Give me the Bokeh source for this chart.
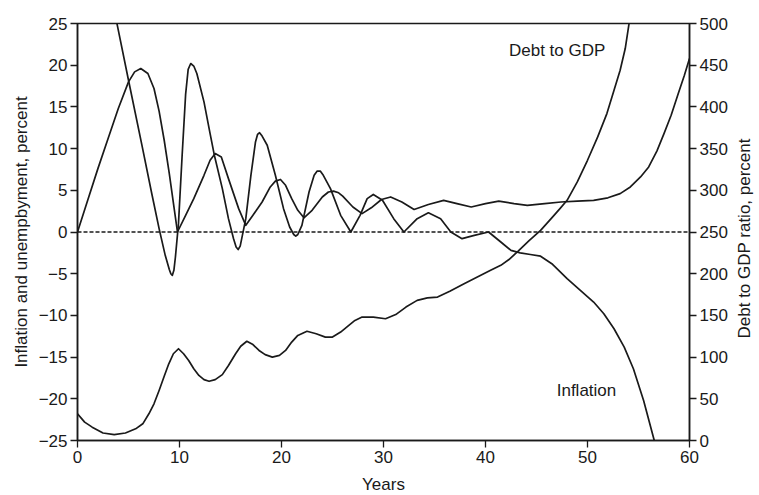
import math
from bokeh.plotting import figure
from bokeh.models import Range1d, LinearAxis, Span, Label, FixedTicker
from bokeh.embed import file_html
from bokeh.resources import INLINE

# ---- data ----
unemp_x = [0, 1, 2, 3, 4, 5, 5.6, 6.2, 6.9, 7.5, 8.0, 8.5, 9.0, 9.4, 9.8,
           10.6, 11.4, 12.4, 13.0, 13.5, 14.1, 14.8, 15.3, 15.8, 16.5,
           17.2, 18.1, 18.9, 19.4, 19.9, 20.4, 21.0, 21.6, 22.2, 23.0, 24.0, 24.6, 25.1,
           25.6, 26.0, 27.0, 27.9, 28.8, 29.8, 30.7, 31.8, 33.0, 34.4, 35.9, 37.2,
           38.6, 40.0, 41.3, 42.8, 44.1, 45.8, 47.4, 49.0, 50.6, 52.0, 53.2,
           54.2, 55.2, 56.0, 56.8, 57.5, 58.2, 58.9, 59.5, 60.0]
unemp_y = [0, 3.8, 7.6, 11.2, 14.8, 18.0, 19.2, 19.6, 19.0, 17.2, 14.5, 11.0, 7.0, 3.5, 0.0,
           2.0, 4.0, 6.8, 8.6, 9.4, 9.0, 6.4, 4.6, 2.8, 0.8,
           2.0, 3.6, 5.4, 6.1, 6.3, 5.6, 4.0, 2.6, 1.7, 2.6, 4.2, 4.8, 4.9,
           4.7, 4.3, 3.0, 2.2, 2.9, 3.9, 4.2, 3.6, 2.7, 3.3, 3.8, 3.4,
           3.0, 3.4, 3.7, 3.4, 3.2, 3.4, 3.6, 3.7, 3.8, 4.1, 4.6,
           5.4, 6.6, 7.8, 9.7, 11.8, 14.0, 16.6, 18.8, 20.8]

infl_x = [3.0, 3.9, 5.0, 6.3, 7.3, 8.0, 8.6, 9.0, 9.15, 9.3, 9.45, 9.6, 9.9, 10.25, 10.6, 10.85,
          11.1, 11.4, 11.7, 12.4, 13.0, 13.4, 14.2, 14.8, 15.3, 15.55, 15.75, 15.95, 16.1, 16.5, 17.0,
          17.45, 17.65, 17.85, 18.1, 18.6, 19.4, 20.2, 20.8, 21.2, 21.4, 21.6, 22.0, 22.7, 23.2, 23.5, 23.8,
          24.1, 24.8, 25.8, 26.8, 27.7, 28.4, 29.0, 29.9, 31.0, 32.0, 33.3, 34.4,
          35.6, 36.6, 37.7, 38.9, 40.3, 41.5, 42.5, 43.4, 44.4, 45.4, 46.5, 48.0,
          49.3, 50.6, 51.6, 52.6, 53.6, 54.5, 55.5, 56.5, 57.0]
infl_y = [30.2, 24.8, 18.2, 10.5, 4.5, 0.4, -2.8, -4.5, -5.0, -5.2, -4.6, -3.0, 1.0, 9.0, 16.5, 19.5,
          20.2, 19.9, 19.0, 15.6, 11.8, 9.3, 5.2, 1.6, -0.8, -1.8, -2.1, -1.7, -0.8, 1.6, 6.8,
          10.8, 11.7, 11.9, 11.5, 10.4, 6.8, 2.8, 0.6, -0.3, -0.5, -0.3, 0.8, 4.8, 6.8, 7.3, 7.3,
          6.8, 5.2, 2.0, 0.0, 2.0, 4.0, 4.5, 3.8, 1.6, 0.0, 1.6, 2.3,
          1.6, 0.0, -0.8, -0.4, 0.0, -1.2, -2.2, -2.5, -2.7, -2.9, -3.8, -5.6,
          -7.0, -8.4, -9.8, -11.6, -13.8, -16.4, -20.2, -24.8, -27.0]

debt_x = [0, 0.7, 1.44, 2.5, 3.6, 4.7, 5.7, 6.4, 7.0, 7.5, 8.0, 8.5, 8.95, 9.4, 9.9,
          10.4, 10.9, 11.4, 11.9, 12.4, 12.9, 13.5, 14.2, 14.8, 15.5, 16.0, 16.6,
          17.2, 17.8, 18.4, 19.1, 19.8, 20.4, 21.0, 21.6, 22.5, 23.4, 24.3, 25.0,
          25.8, 26.6, 27.2, 27.9, 29.0, 30.2, 31.2, 32.2, 33.3, 34.3, 35.3, 36.5,
          37.9, 39.2, 40.5, 41.5, 42.3, 43.2, 44.3, 45.4, 46.5, 47.3, 48.0, 49.0,
          50.0, 51.0, 51.9, 52.6, 53.2, 53.7, 54.05, 54.4]
debt_y = [32, 22, 16, 9, 7, 9, 14, 20, 32, 44, 60, 77, 92, 104, 110,
          104, 96, 86, 78, 73, 71, 73, 79, 90, 104, 113, 119,
          115, 108, 103, 100, 102, 108, 118, 126, 131, 128, 124, 124,
          130, 138, 144, 148, 148, 146, 151, 160, 168, 171, 172, 179,
          188, 196, 204, 210, 217, 227, 240, 252, 267, 278, 288, 310,
          336, 364, 392, 420, 444, 470, 498, 520]

x_ticks = [0, 10, 20, 30, 40, 50, 60]
left_ticks = [-25, -20, -15, -10, -5, 0, 5, 10, 15, 20, 25]
right_ticks = [0, 50, 100, 150, 200, 250, 300, 350, 400, 450, 500]

FONT = "Liberation Sans"
INK = "#1a1a1a"
FS = "17px"

p = figure(frame_width=612, frame_height=417,
           x_range=Range1d(0, 60), y_range=Range1d(-25, 25),
           output_backend="svg", toolbar_location=None,
           min_border_left=77, min_border_right=68, min_border_top=23, min_border_bottom=55)
p.extra_y_ranges = {"debt": Range1d(0, 500)}
p.grid.visible = False
p.background_fill_color = "white"
p.outline_line_color = INK
p.outline_line_width = 1.5

right_axis = LinearAxis(y_range_name="debt")
p.add_layout(right_axis, "right")

p.xaxis.ticker = FixedTicker(ticks=x_ticks)
p.yaxis[0].ticker = FixedTicker(ticks=left_ticks)
right_axis.ticker = FixedTicker(ticks=right_ticks)

p.xaxis.axis_label = "Years"
p.yaxis[0].axis_label = "Inflation and unempbyment, percent"
# em-space padding pushes the bottom-to-top title up from the axis start
right_axis.axis_label = "\u2003" * 6 + "Debt to GDP ratio, percent"

for ax in [p.xaxis[0], p.yaxis[0], right_axis]:
    ax.axis_line_color = INK
    ax.axis_line_width = 1.5
    ax.major_tick_line_color = INK
    ax.major_tick_line_width = 1.3
    ax.major_tick_out = 7
    ax.major_tick_in = 0
    ax.minor_tick_out = 0
    ax.minor_tick_in = 0
    ax.major_label_text_font = FONT
    ax.major_label_text_font_size = FS
    ax.major_label_text_color = INK
    ax.major_label_standoff = 3
    ax.axis_label_text_font = FONT
    ax.axis_label_text_font_size = FS
    ax.axis_label_text_font_style = "normal"
    ax.axis_label_text_color = INK
    ax.axis_label_standoff = 5
p.xaxis.axis_label_standoff = 9

# right-hand axis title, reading bottom to top
right_axis.axis_label_orientation = math.pi / 2
right_axis.axis_label_align = "start"
right_axis.axis_label_standoff = 14

p.add_layout(Span(location=0, dimension="width", line_color=INK,
                  line_width=1.5, line_dash="4 2"))

lw = 1.7
p.line(unemp_x, unemp_y, line_color=INK, line_width=lw, line_join="round")
p.line(infl_x, infl_y, line_color=INK, line_width=lw, line_join="round")
p.line(debt_x, debt_y, line_color=INK, line_width=lw, line_join="round", y_range_name="debt")

p.add_layout(Label(x=42.3, y=21.8, text="Debt to GDP", text_font=FONT,
                   text_font_size=FS, text_color=INK,
                   text_align="left", text_baseline="middle"))
p.add_layout(Label(x=49.9, y=-19.0, text="Inflation", text_font=FONT,
                   text_font_size=FS, text_color=INK,
                   text_align="center", text_baseline="middle"))

open("out.html", "w").write(file_html(p, INLINE))
